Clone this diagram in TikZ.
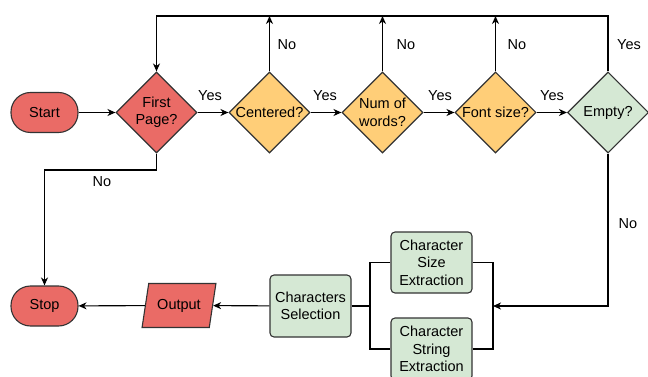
\documentclass[tikz,border=0pt]{standalone}
\usepackage{fontspec}
\setmainfont{Liberation Sans}
\usetikzlibrary{shapes.geometric,arrows.meta}

\definecolor{termred}{HTML}{EA6B66}
\definecolor{checkorange}{HTML}{FFCE78}
\definecolor{procgreen}{HTML}{D5E8D4}
\definecolor{edgegray}{HTML}{333333}

\tikzset{
  base/.style={draw=edgegray, line width=1.1pt, inner sep=0pt,
    font=\fontsize{14.5}{17.5}\selectfont, align=center},
  terminal/.style={base, fill=termred, rectangle, rounded corners=19.5pt,
    minimum width=67pt, minimum height=40pt},
  decision/.style={base, diamond, aspect=1, minimum width=81pt, minimum height=81pt},
  dtext/.style={inner sep=0pt, font=\fontsize{14.5}{17.5}\selectfont, align=center},
  process/.style={base, fill=procgreen, rectangle, rounded corners=4pt,
    minimum width=81pt, minimum height=61pt},
  iobox/.style={base, fill=termred, trapezium, trapezium left angle=70,
    trapezium right angle=110, trapezium stretches=true,
    minimum width=74pt, minimum height=44pt},
  flow/.style={line width=1.1pt, draw=black},
  arrow/.style={flow, -{Stealth[length=8pt,width=7pt,inset=2.5pt]}},
  lbl/.style={inner sep=0pt, font=\fontsize{14.5}{17.5}\selectfont},
}

\begin{document}
\begin{tikzpicture}[x=1pt, y=-1pt]
  \useasboundingbox (0,0) rectangle (648,377);

  % top row
  \node[terminal] (start) at (44.5,112.5) {Start};
  \node[decision, fill=termred] (first) at (156.5,112.5) {};
  \node[dtext] (firstT) at (first) {First\\Page?};
  \node[decision, fill=checkorange] (centered) at (269.5,112.5) {};
  \node[dtext] (centeredT) at (centered) {Centered?};
  \node[decision, fill=checkorange] (words) at (382.5,112.5) {};
  \node[dtext] (wordsT) at (words) {Num of\\words?};
  \node[decision, fill=checkorange] (fsize) at (495.5,112.5) {};
  \node[dtext] (fsizeT) at (fsize) {Font size?};
  \node[decision, fill=procgreen] (empty) at (608,112.5) {};
  \node[dtext] (emptyT) at (empty) {Empty?};

  % bottom row
  \node[terminal] (stop) at (44.5,306) {Stop};
  \node[iobox] (out) at (179,305.5) {Output};
  \node[process, minimum height=62pt] (sel) at (310.5,306) {Characters\\Selection};
  \node[process] (csize) at (431.5,262.5) {Character\\Size\\Extraction};
  \node[process, minimum height=62pt] (cstring) at (431.5,349) {Character\\String\\Extraction};

  % helper coordinates for the loop and the brackets
  \coordinate (loop) at (0,16);
  \coordinate (drop) at (0,170);
  \coordinate (lbr) at (370,0);
  \coordinate (rbr) at (493,0);

  % main chain
  \draw[arrow] (start) -- (first);
  \draw[arrow] (first) -- (centered);
  \draw[arrow] (centered) -- (words);
  \draw[arrow] (words) -- (fsize);
  \draw[arrow] (fsize) -- (empty);

  % loop back to the first page check
  \draw[arrow] (centered.north) -- (centered.north |- loop);
  \draw[arrow] (words.north) -- (words.north |- loop);
  \draw[arrow] (fsize.north) -- (fsize.north |- loop);
  \draw[arrow] (empty.north) -- (empty.north |- loop) -- (first.north |- loop) -- (first.north);

  % not the first page
  \draw[arrow] (first.south) -- (first.south |- drop) -- (stop.north |- drop) -- (stop.north);

  % extraction branch
  \draw[arrow] (empty.south) -- (empty.south |- sel) -- (rbr |- sel);
  \draw[flow] (csize.east) -- (rbr |- csize) -- (rbr |- cstring) -- (cstring.east);
  \draw[flow] (csize.west) -- (lbr |- csize) -- (lbr |- cstring) -- (cstring.west);
  \draw[flow] (sel.east) -- (lbr |- sel);
  \draw[arrow] (sel) -- (out);
  \draw[arrow] (out) -- (stop);

  % edge labels
  \node[lbl] (y1) at (210,96) {Yes};
  \node[lbl] (y2) at (325,96) {Yes};
  \node[lbl] (y3) at (440,96) {Yes};
  \node[lbl] (y4) at (552,96) {Yes};
  \node[lbl] (n1) at (287,45) {No};
  \node[lbl] (n2) at (406,45) {No};
  \node[lbl] (n3) at (517,45) {No};
  \node[lbl] (y5) at (629,45) {Yes};
  \node[lbl] (n4) at (628,224) {No};
  \node[lbl] (n5) at (102,182) {No};
\end{tikzpicture}
\end{document}
